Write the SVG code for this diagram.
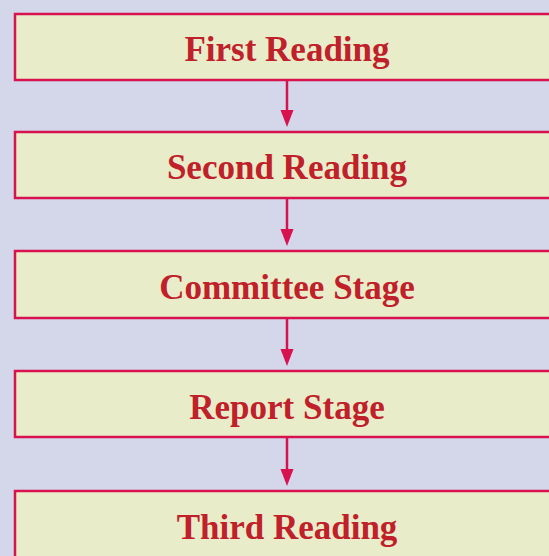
<svg xmlns="http://www.w3.org/2000/svg" width="549" height="556" viewBox="0 0 549 556">
<style>
.box{fill:#e8ecc8;stroke:#d8124f;stroke-width:2.5}
.lbl{font-family:"Liberation Serif",serif;font-weight:bold;font-size:35px;fill:#c0202a;text-anchor:middle}
.con{stroke:#d8124f;stroke-width:2.5;fill:none}
.head{fill:#d8124f}
</style>
<rect width="549" height="556" fill="#d4d6ea"/>
<g id="n1"><rect class="box" x="15" y="14" width="560" height="66"/><text class="lbl" x="287" y="61">First Reading</text></g>
<g id="n2"><rect class="box" x="15" y="132" width="560" height="66"/><text class="lbl" x="287" y="179">Second Reading</text></g>
<g id="n3"><rect class="box" x="15" y="251" width="560" height="67"/><text class="lbl" x="287" y="299">Committee Stage</text></g>
<g id="n4"><rect class="box" x="15" y="371" width="560" height="66"/><text class="lbl" x="287" y="419">Report Stage</text></g>
<g id="n5"><rect class="box" x="15" y="491" width="560" height="80"/><text class="lbl" x="287" y="539">Third Reading</text></g>
<g id="connectors">
<line class="con" x1="287" y1="80" x2="287" y2="112"/><polygon class="head" points="280.5,110 293.5,110 287,127"/>
<line class="con" x1="287" y1="198" x2="287" y2="231"/><polygon class="head" points="280.5,229 293.5,229 287,246"/>
<line class="con" x1="287" y1="318" x2="287" y2="351"/><polygon class="head" points="280.5,349 293.5,349 287,366"/>
<line class="con" x1="287" y1="437" x2="287" y2="471"/><polygon class="head" points="280.5,469 293.5,469 287,486"/>
</g>
</svg>
